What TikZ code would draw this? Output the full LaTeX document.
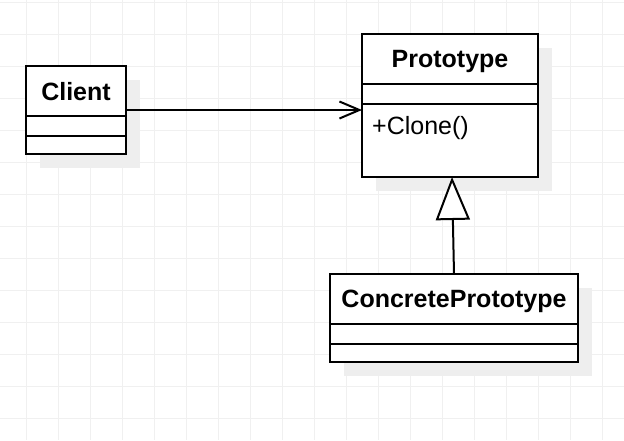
\documentclass[tikz,border=0pt]{standalone}
\usepackage{fontspec}
\setmainfont{Liberation Sans}
\usetikzlibrary{arrows.meta,shadows}

\definecolor{gridgray}{HTML}{F0F0F0}
\definecolor{shadowgray}{HTML}{EEEEEE}

\begin{document}
\begin{tikzpicture}[
    x=1pt, y=-1pt,
    umlclass/.style={rectangle, draw=black, line width=2pt, fill=white, outer sep=0pt, inner sep=0pt,
        drop shadow={shadow xshift=14pt, shadow yshift=-14pt, fill=shadowgray, opacity=1}},
    classname/.style={font=\fontsize{25}{28}\selectfont\bfseries, text depth=0pt, inner sep=0pt},
    member/.style={font=\fontsize{25}{28}\selectfont, inner sep=0pt, anchor=base west},
    divider/.style={draw=black, line width=2pt},
    gridline/.style={draw=gridgray, line width=1pt},
    assoc/.style={-{Straight Barb[length=20pt, width=17pt]}, line width=2pt},
    inherit/.style={-{Triangle[length=43pt, width=34pt, fill=white]}, line width=2pt}
]
\useasboundingbox (0,0) rectangle (624,440);

% Background grid
\foreach \x in {26,58,...,602} \draw[gridline] (\x,0) -- (\x,440);
\foreach \y in {2,34,...,418} \draw[gridline] (0,\y) -- (624,\y);

% Classes
\node[umlclass, minimum width=100pt, minimum height=88pt] (client) at (76,110) {};
\node[umlclass, minimum width=176pt, minimum height=143pt] (proto) at (450,105.5) {};
\node[umlclass, minimum width=248pt, minimum height=88pt] (concrete) at (454,318) {};

% Compartments
\draw[divider] ([yshift=-50pt]client.north west) -- ([yshift=-50pt]client.north east);
\draw[divider] ([yshift=-70pt]client.north west) -- ([yshift=-70pt]client.north east);
\draw[divider] ([yshift=-50pt]proto.north west) -- ([yshift=-50pt]proto.north east);
\draw[divider] ([yshift=-70pt]proto.north west) -- ([yshift=-70pt]proto.north east);
\draw[divider] ([yshift=-50pt]concrete.north west) -- ([yshift=-50pt]concrete.north east);
\draw[divider] ([yshift=-70pt]concrete.north west) -- ([yshift=-70pt]concrete.north east);

% Names and operations
\node[classname] (clientname) at ([yshift=-25pt]client.north) {Client};
\node[classname] (protoname) at ([yshift=-25pt]proto.north) {Prototype};
\node[classname] (concretename) at ([yshift=-25pt]concrete.north) {ConcretePrototype};
\node[member] (clone) at ([shift={(10,100)}]proto.north west) {+Clone()};

% Arrows
\draw[assoc] (client.east) -- (client.east -| proto.west);
\draw[inherit] (concrete.north) -- ([xshift=2pt]proto.south);

\end{tikzpicture}
\end{document}
